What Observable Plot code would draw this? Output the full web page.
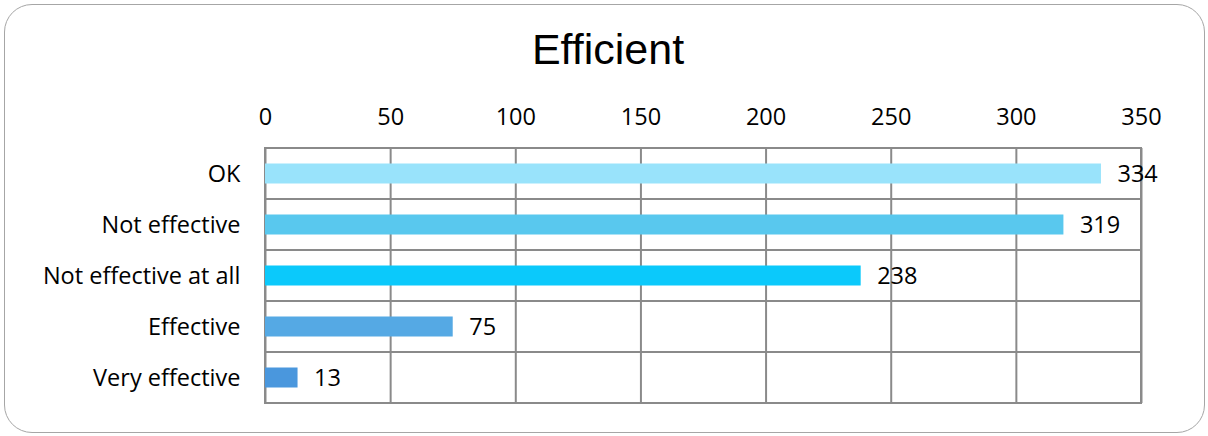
<!DOCTYPE html>
<html><head><meta charset="utf-8">
<script src="https://cdn.jsdelivr.net/npm/d3@7"></script>
<script src="https://cdn.jsdelivr.net/npm/@observablehq/plot@0.6"></script>
<style>
body{margin:0;background:#fff;}
#wrap{position:relative;width:1208px;height:436px;overflow:hidden;}
#frame{position:absolute;left:4px;top:4px;width:1201px;height:429px;border:1.5px solid #a6a6a6;border-radius:28px;box-sizing:border-box;}
#chart{position:absolute;left:0;top:0;}
#title{position:absolute;left:0;width:1216px;top:24px;text-align:center;font-family:"Liberation Sans",Arial,sans-serif;font-size:43px;line-height:50px;color:#000;}
</style></head>
<body><div id="wrap"><div id="frame"></div><div id="chart"></div><div id="title"></div></div>
<script>
const title = "Efficient";
const categories = ["OK","Not effective","Not effective at all","Effective","Very effective"];
const values = [334,319,238,75,13];
const colors = ["#99E3FB","#59C8EE","#0BC9FB","#55A9E4","#4A97DD"];
const xTicks = [0,50,100,150,200,250,300,350];

document.getElementById("title").textContent = title;
const data = categories.map((c,i)=>({cat:c, value:values[i], color:colors[i]}));
const font = "Open Sans, sans-serif";
const grid = "#8a8a8a";

const chart = Plot.plot({
  width:1208, height:436,
  marginLeft:265, marginRight:67, marginTop:148, marginBottom:33,
  style:{fontFamily:font, fontSize:"23.5px", color:"#000", background:"transparent"},
  x:{domain:[0,350], ticks:xTicks, axis:"top", tickSize:0, tickPadding:24, label:null},
  y:{domain:categories, padding:0, tickSize:0, tickPadding:25, label:null},
  marks:[
    Plot.barX(categories, {x1:0, x2:350, y:d=>d, fill:"none", stroke:grid, strokeWidth:2, inset:0}),
    Plot.ruleX(xTicks, {x:d=>d, stroke:grid, strokeWidth:2}),
    Plot.barX(data, {x:"value", y:"cat", fill:"color", insetTop:15.5, insetBottom:15.5}),
    Plot.text(data, {x:"value", y:"cat", text:d=>String(d.value), textAnchor:"start", dx:16, fontSize:23.5, fill:"#000"})
  ]
});
document.getElementById("chart").appendChild(chart);
</script></body></html>
